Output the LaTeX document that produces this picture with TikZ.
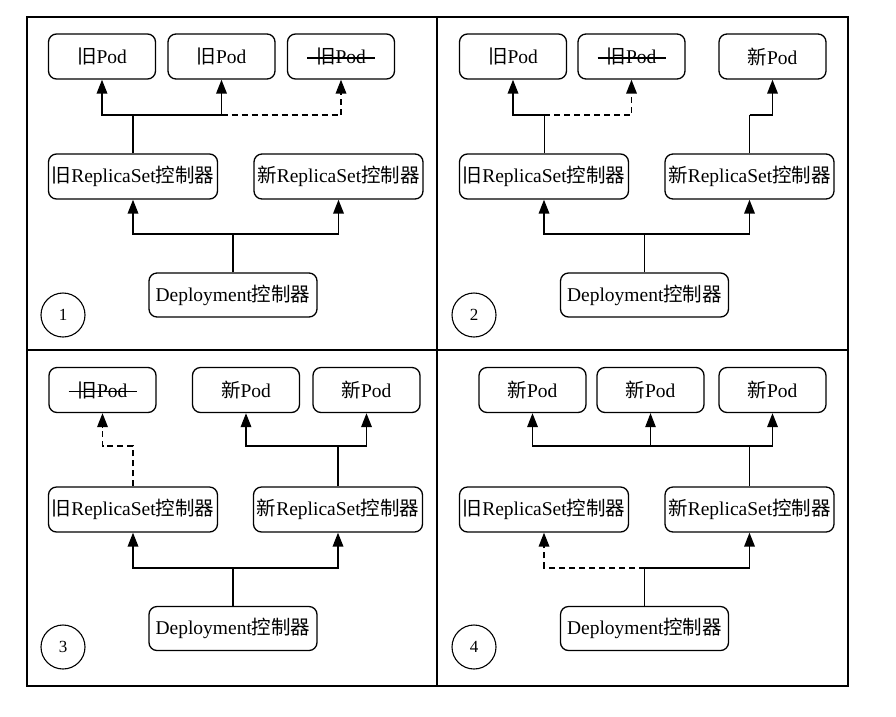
\documentclass[tikz,border=0pt]{standalone}
\usepackage{fontspec}
\setmainfont{Liberation Serif}
\newfontfamily\cjk{Noto Sans CJK SC}
\usetikzlibrary{arrows.meta}
\newcommand\myJiu{{\cjk 旧}}
\newcommand\myXin{{\cjk 新}}
\newcommand\myKzq{{\cjk 控制器}}
\tikzset{
  box/.style={draw, line width=1.3pt, rounded corners=8pt, inner sep=0pt, minimum height=45pt,
    font=\fontsize{19.5}{22}\selectfont},
  pod/.style={box, minimum width=107pt},
  rs/.style={box, minimum width=169pt},
  dep/.style={box, minimum width=168pt, minimum height=44pt},
  num/.style={draw, circle, line width=1.1pt, minimum size=44pt, inner sep=0pt, font=\fontsize{17}{19}\selectfont},
  tk/.style={line width=1.8pt},
  tn/.style={line width=1pt},
  arr/.style={-{Triangle[length=14pt,width=10.5pt]}},
  dsh/.style={dash pattern=on 6pt off 4pt},
  strike/.style={line width=1.5pt}
}
\begin{document}
\begin{tikzpicture}[x=1pt,y=-1pt]
\useasboundingbox (0,0) rectangle (896,716);
% frame
\draw[line width=1.6pt] (27,17) rectangle (848,686);
\draw[line width=1.3pt] (437,17) -- (437,686);
\draw[line width=1.3pt] (27,350) -- (848,350);

% ---------- Quadrant 1 ----------
\node[pod] (p11) at (102,56.5) {\myJiu Pod};
\node[pod] (p12) at (221.5,56.5) {\myJiu Pod};
\node[pod] (p13) at (341,56.5) {\myJiu Pod};
\draw[strike] ([xshift=-34pt,yshift=-1.5pt]p13.center) -- ([xshift=34pt,yshift=-1.5pt]p13.center);
\node[rs] (r1o) at (133,176.5) {\myJiu ReplicaSet\myKzq};
\node[rs] (r1n) at (338.5,176.5) {\myXin ReplicaSet\myKzq};
\node[dep] (d1) at (233,295) {Deployment\myKzq};
\node[num] (c1) at (63,315) {1};
\draw[tk] (r1o.north) -- ++(0,-38) coordinate (j1);
\draw[tk,arr] (j1) -| (p11.south);
\draw[tk,arr] (j1) -| (p12.south);
\draw[tk,dsh,arr] (p12.south |- j1) -| (p13.south);
\draw[tk] (d1.north) -- ++(0,-38) coordinate (k1);
\draw[tk,arr] (k1) -| (r1o.south);
\draw[tk,arr] (k1) -| (r1n.south);

% ---------- Quadrant 2 ----------
\node[pod] (p21) at (513,56.5) {\myJiu Pod};
\node[pod] (p22) at (631.5,56.5) {\myJiu Pod};
\node[pod] (p23) at (772.5,56.5) {\myXin Pod};
\draw[strike] ([xshift=-34pt,yshift=-1.5pt]p22.center) -- ([xshift=34pt,yshift=-1.5pt]p22.center);
\node[rs] (r2o) at (544,176.5) {\myJiu ReplicaSet\myKzq};
\node[rs] (r2n) at (749.5,176.5) {\myXin ReplicaSet\myKzq};
\node[dep] (d2) at (644.5,295) {Deployment\myKzq};
\node[num] (c2) at (474,315) {2};
\draw[tn] (r2o.north) -- ++(0,-38) coordinate (j2);
\draw[tk,arr] (j2) -| (p21.south);
\draw[tk,dsh,arr] (j2) -| (p22.south);
\draw[tn] (r2n.north) -- ++(0,-38) coordinate (j2n);
\draw[tk,arr] (j2n) -| (p23.south);
\draw[tn] (d2.north) -- ++(0,-38) coordinate (k2);
\draw[tk,arr] (k2) -| (r2o.south);
\draw[tk,arr] (k2) -| (r2n.south);

% ---------- Quadrant 3 ----------
\node[pod] (p31) at (102.5,390) {\myJiu Pod};
\node[pod] (p32) at (246,390) {\myXin Pod};
\node[pod] (p33) at (366.5,390) {\myXin Pod};
\draw[strike] ([xshift=-34pt,yshift=-1.5pt]p31.center) -- ([xshift=34pt,yshift=-1.5pt]p31.center);
\node[rs] (r3o) at (133,509.5) {\myJiu ReplicaSet\myKzq};
\node[rs] (r3n) at (338,509.5) {\myXin ReplicaSet\myKzq};
\node[dep] (d3) at (233,628.5) {Deployment\myKzq};
\node[num] (c3) at (63,647) {3};
\draw[tk,dsh,arr] (r3o.north) -- ++(0,-40) -| (p31.south);
\draw[tk] (r3n.north) -- ++(0,-40) coordinate (j3);
\draw[tk,arr] (j3) -| (p32.south);
\draw[tk,arr] (j3) -| (p33.south);
\draw[tk] (d3.north) -- ++(0,-38) coordinate (k3);
\draw[tk,arr] (k3) -| (r3o.south);
\draw[tk,arr] (k3) -| (r3n.south);

% ---------- Quadrant 4 ----------
\node[pod] (p41) at (532.5,390) {\myXin Pod};
\node[pod] (p42) at (650.5,390) {\myXin Pod};
\node[pod] (p43) at (772.5,390) {\myXin Pod};
\node[rs] (r4o) at (544,509.5) {\myJiu ReplicaSet\myKzq};
\node[rs] (r4n) at (749.5,509.5) {\myXin ReplicaSet\myKzq};
\node[dep] (d4) at (644.5,628.5) {Deployment\myKzq};
\node[num] (c4) at (474,647) {4};
\draw[tn] (r4n.north) -- ++(0,-40) coordinate (j4);
\draw[tk,arr] (j4) -| (p41.south);
\draw[tk,arr] (j4) -| (p43.south);
\draw[tn,arr] (p42.south |- j4) -- (p42.south);
\draw[tn] (d4.north) -- ++(0,-38) coordinate (k4);
\draw[tk,dsh,arr] (k4) -| (r4o.south);
\draw[tk,arr] (k4) -| (r4n.south);
\end{tikzpicture}
\end{document}
